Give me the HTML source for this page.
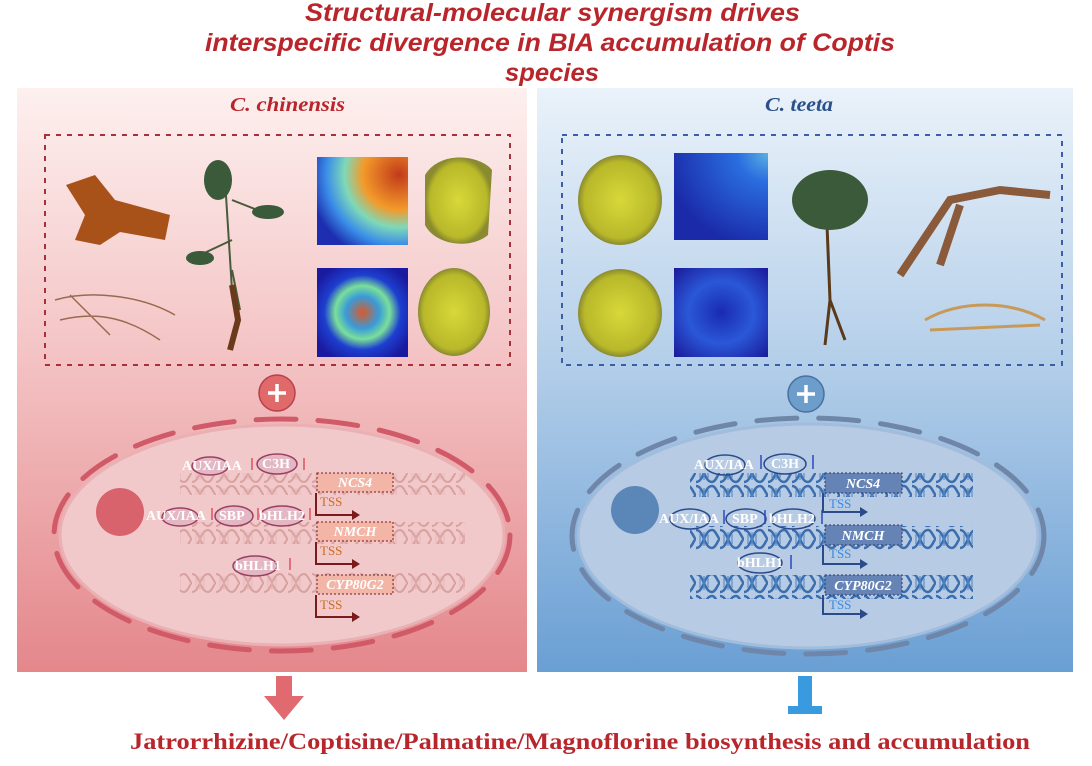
<!DOCTYPE html>
<html><head><meta charset="utf-8"><style>
html,body{margin:0;padding:0;background:#fff;}
svg{display:block;}
.t{font-family:"Liberation Sans",sans-serif;font-style:italic;font-weight:bold;fill:#b8262c;font-size:25px;}
.s{font-family:"Liberation Serif",serif;}
</style></head><body>
<svg width="1092" height="766" viewBox="0 0 1092 766" xmlns="http://www.w3.org/2000/svg">
<defs>
<linearGradient id="gl" x1="0" y1="0" x2="0" y2="1"><stop offset="0" stop-color="#fdf0ef"/><stop offset="0.45" stop-color="#f4c4c5"/><stop offset="1" stop-color="#e4878b"/></linearGradient>
<linearGradient id="gr" x1="0" y1="0" x2="0" y2="1"><stop offset="0" stop-color="#eaf2fa"/><stop offset="0.45" stop-color="#b6d0ea"/><stop offset="1" stop-color="#6a9fd4"/></linearGradient>
<radialGradient id="hm1" cx="0.9" cy="0.2" r="1"><stop offset="0" stop-color="#c23a1a"/><stop offset="0.4" stop-color="#f39a2a"/><stop offset="0.6" stop-color="#7ed9b8"/><stop offset="0.8" stop-color="#3a8de8"/><stop offset="1" stop-color="#1d2fb0"/></radialGradient>
<radialGradient id="hm2" cx="0.5" cy="0.5" r="0.6"><stop offset="0" stop-color="#d85a2a"/><stop offset="0.3" stop-color="#3a9ad8"/><stop offset="0.5" stop-color="#7adf9a"/><stop offset="0.7" stop-color="#1d3fd0"/><stop offset="1" stop-color="#1a1aa0"/></radialGradient>
<radialGradient id="hm3" cx="1" cy="0" r="1.1"><stop offset="0" stop-color="#5ab0e0"/><stop offset="0.3" stop-color="#2a6de0"/><stop offset="1" stop-color="#1a2aa8"/></radialGradient>
<radialGradient id="hm4" cx="0.5" cy="0.5" r="0.7"><stop offset="0" stop-color="#1a2ab0"/><stop offset="0.5" stop-color="#2a58d8"/><stop offset="1" stop-color="#1a1a9a"/></radialGradient>
<radialGradient id="sl" cx="0.5" cy="0.5" r="0.5"><stop offset="0" stop-color="#d8d83a"/><stop offset="0.85" stop-color="#b8b82a"/><stop offset="1" stop-color="#8a8a30"/></radialGradient>
<pattern id="dnaL" width="24" height="22" patternUnits="userSpaceOnUse"><path d="M0 2 C8 2 8 20 16 20 M0 20 C8 20 8 2 16 2 M16 2 C20 2 22 11 24 11 M16 20 C20 20 22 11 24 11" stroke="#d9a0a0" stroke-width="2" fill="none"/><path d="M4 6v10M8 4v14M12 6v10" stroke="#e6b5b5" stroke-width="1"/></pattern>
<pattern id="dnaR" width="24" height="22" patternUnits="userSpaceOnUse"><path d="M0 2 C8 2 8 20 16 20 M0 20 C8 20 8 2 16 2 M16 2 C20 2 22 11 24 11 M16 20 C20 20 22 11 24 11" stroke="#3a6eae" stroke-width="2.5" fill="none"/><path d="M4 6v10M8 4v14M12 6v10" stroke="#5a8cc8" stroke-width="1.2"/></pattern>
</defs>
<rect width="1092" height="766" fill="#fff"/>
<text class="t" x="305" y="21" textLength="495" lengthAdjust="spacingAndGlyphs">Structural-molecular synergism drives</text>
<text class="t" x="205" y="51" textLength="690" lengthAdjust="spacingAndGlyphs">interspecific divergence in BIA accumulation of Coptis</text>
<text class="t" x="505" y="81" textLength="94" lengthAdjust="spacingAndGlyphs">species</text>

<rect x="17" y="88" width="510" height="584" fill="url(#gl)"/>
<rect x="537" y="88" width="536" height="584" fill="url(#gr)"/>
<text x="230" y="111" textLength="115" lengthAdjust="spacingAndGlyphs" class="s" font-size="20" font-weight="bold" font-style="italic" fill="#b8262c">C. chinensis</text>
<text x="765" y="111" textLength="68" lengthAdjust="spacingAndGlyphs" class="s" font-size="20" font-weight="bold" font-style="italic" fill="#2b4f8a">C. teeta</text>

<rect x="45" y="135" width="465" height="230" fill="none" stroke="#a8303a" stroke-width="2" stroke-dasharray="5 6"/>
<rect x="562" y="135" width="500" height="230" fill="none" stroke="#3a5ea8" stroke-width="2" stroke-dasharray="5 6"/>

<path d="M66 185 L95 175 L115 200 L170 215 L165 240 L120 232 L100 245 L75 240 L85 215 Z" fill="#a8521a"/>
<path d="M55 300 C90 290 140 295 175 315 M60 320 C100 310 130 320 160 340 M70 295 L110 335" stroke="#9a6a50" stroke-width="1.5" fill="none"/>
<path d="M225 180 L232 290 M232 270 L240 310 M232 200 L270 215 M232 240 L200 255" stroke="#4a5a3a" stroke-width="2" fill="none"/>
<ellipse cx="218" cy="180" rx="14" ry="20" fill="#3a5a3a"/>
<ellipse cx="268" cy="212" rx="16" ry="7" fill="#3a5a3a"/>
<ellipse cx="200" cy="258" rx="14" ry="7" fill="#3a5a3a"/>
<path d="M232 285 L238 320 L230 350" stroke="#6a3a1a" stroke-width="6" fill="none"/>
<rect x="317" y="157" width="91" height="88" fill="url(#hm1)"/>
<path d="M425 175 C440 150 480 155 492 170 L488 235 C470 250 435 245 425 225 Z" fill="url(#sl)"/>
<rect x="317" y="268" width="91" height="89" fill="url(#hm2)"/>
<ellipse cx="454" cy="312" rx="36" ry="44" fill="url(#sl)"/>
<ellipse cx="620" cy="200" rx="42" ry="45" fill="url(#sl)"/>
<rect x="674" y="153" width="94" height="87" fill="url(#hm3)"/>
<ellipse cx="620" cy="313" rx="42" ry="44" fill="url(#sl)"/>
<rect x="674" y="268" width="94" height="89" fill="url(#hm4)"/>
<path d="M825 175 L830 300 M830 300 L825 345 M830 300 L845 340" stroke="#5a3a1a" stroke-width="3" fill="none"/>
<ellipse cx="830" cy="200" rx="38" ry="30" fill="#3a5a3a"/>
<path d="M900 275 L950 200 L1000 190 L1050 195 M960 205 L940 265" stroke="#8a5a3a" stroke-width="8" fill="none"/>
<path d="M925 320 C960 300 1010 300 1045 320 M930 330 L1040 325" stroke="#c89a5a" stroke-width="3" fill="none"/>

<circle cx="277" cy="393" r="18" fill="#e06a6a" stroke="#b84050" stroke-width="1.5"/>
<path d="M268 393h18M277 384v18" stroke="#fff" stroke-width="3.5"/>
<circle cx="806" cy="394" r="18" fill="#6d9ecb" stroke="#4a70a0" stroke-width="1.5"/>
<path d="M797 394h18M806 385v18" stroke="#fff" stroke-width="3.5"/>

<ellipse cx="282" cy="535" rx="222" ry="110" fill="#f1c9ca" stroke="#eab0b3" stroke-width="3"/>
<ellipse cx="282" cy="535" rx="228" ry="116" fill="none" stroke="#d05a68" stroke-width="5" stroke-dasharray="40 22" stroke-linecap="round"/>
<circle cx="120" cy="512" r="24" fill="#d8636c"/>
<rect x="180" y="473" width="285" height="22" fill="url(#dnaL)"/>
<rect x="180" y="522" width="285" height="22" fill="url(#dnaL)"/>
<rect x="180" y="572" width="285" height="22" fill="url(#dnaL)"/>
<g font-family="Liberation Serif,serif" font-size="14" font-weight="bold" fill="#fff">
<ellipse cx="210" cy="466" rx="18" ry="9" fill="#e3b8c4" stroke="#9a4060" stroke-width="1.5"/>
<text x="182" y="470">AUX/IAA</text>
<ellipse cx="277" cy="464" rx="20" ry="10" fill="#e3b8c4" stroke="#9a4060" stroke-width="1.5"/>
<text x="262" y="468">C3H</text>
<ellipse cx="180" cy="517" rx="18" ry="9" fill="#e3b8c4" stroke="#9a4060" stroke-width="1.5"/>
<text x="146" y="520">AUX/IAA</text>
<ellipse cx="234" cy="516" rx="19" ry="10" fill="#e3b8c4" stroke="#9a4060" stroke-width="1.5"/>
<text x="219" y="520">SBP</text>
<ellipse cx="282" cy="516" rx="22" ry="10" fill="#e3b8c4" stroke="#9a4060" stroke-width="1.5"/>
<text x="259" y="520">bHLH2</text>
<ellipse cx="255" cy="566" rx="22" ry="10" fill="#e3b8c4" stroke="#9a4060" stroke-width="1.5"/>
<text x="235" y="570">bHLH1</text>
</g>
<g stroke="#e05060" stroke-width="1.5" fill="#e05060">
<path d="M252 470v-12M304 470v-12M212 520v-12M258 520v-12M310 520v-12M290 570v-12"/>
</g>
<g font-family="Liberation Serif,serif">
<rect x="317" y="473" width="76" height="19" fill="#f3b5a5" stroke="#7a1a1a" stroke-dasharray="2 2"/>
<text x="355" y="487" text-anchor="middle" font-size="14" font-style="italic" font-weight="bold" fill="#fff">NCS4</text>
<rect x="317" y="522" width="76" height="19" fill="#f3b5a5" stroke="#7a1a1a" stroke-dasharray="2 2"/>
<text x="355" y="536" text-anchor="middle" font-size="14" font-style="italic" font-weight="bold" fill="#fff">NMCH</text>
<rect x="317" y="575" width="76" height="19" fill="#f3b5a5" stroke="#7a1a1a" stroke-dasharray="2 2"/>
<text x="355" y="589" text-anchor="middle" font-size="14" font-style="italic" font-weight="bold" fill="#fff">CYP80G2</text>
<g font-size="13" fill="#d06a20"><text x="320" y="506">TSS</text><text x="320" y="555">TSS</text><text x="320" y="609">TSS</text></g>
<g stroke="#7a1a1a" stroke-width="2" fill="none"><path d="M316 493v22h42M316 542v22h42M316 595v22h42"/></g>
<g fill="#7a1a1a"><path d="M360 515l-8-5v10zM360 564l-8-5v10zM360 617l-8-5v10z"/></g>
</g>

<ellipse cx="808" cy="536" rx="230" ry="112" fill="#b7cbe4" stroke="#a2bcdc" stroke-width="3"/>
<ellipse cx="808" cy="536" rx="236" ry="118" fill="none" stroke="#6f86a8" stroke-width="5" stroke-dasharray="40 22" stroke-linecap="round"/>
<circle cx="635" cy="510" r="24" fill="#5a86b8"/>
<rect x="690" y="473" width="283" height="24" fill="url(#dnaR)"/>
<rect x="690" y="526" width="283" height="24" fill="url(#dnaR)"/>
<rect x="690" y="575" width="283" height="24" fill="url(#dnaR)"/>
<g font-family="Liberation Serif,serif" font-size="14" font-weight="bold" fill="#fff">
<ellipse cx="725" cy="465" rx="20" ry="10" fill="none" stroke="#2a4a8a" stroke-width="1.5"/>
<text x="694" y="469">AUX/IAA</text>
<ellipse cx="785" cy="464" rx="21" ry="10" fill="none" stroke="#2a4a8a" stroke-width="1.5"/>
<text x="771" y="468">C3H</text>
<ellipse cx="690" cy="519" rx="20" ry="10" fill="none" stroke="#2a4a8a" stroke-width="1.5"/>
<text x="659" y="523">AUX/IAA</text>
<ellipse cx="746" cy="519" rx="20" ry="10" fill="none" stroke="#2a4a8a" stroke-width="1.5"/>
<text x="732" y="523">SBP</text>
<ellipse cx="793" cy="519" rx="22" ry="10" fill="none" stroke="#2a4a8a" stroke-width="1.5"/>
<text x="769" y="523">bHLH2</text>
<ellipse cx="760" cy="563" rx="22" ry="10" fill="none" stroke="#2a4a8a" stroke-width="1.5"/>
<text x="737" y="567">bHLH1</text>
</g>
<g stroke="#2a4ac0" stroke-width="1.5"><path d="M761 455v14M813 455v14M724 510v14M765 510v14M822 510v14M791 555v14"/></g>
<g font-family="Liberation Serif,serif">
<rect x="825" y="473" width="77" height="20" fill="#6683b5" stroke="#2a3a6a" stroke-dasharray="2 2"/>
<text x="863" y="488" text-anchor="middle" font-size="14" font-style="italic" font-weight="bold" fill="#fff">NCS4</text>
<rect x="825" y="525" width="77" height="20" fill="#6683b5" stroke="#2a3a6a" stroke-dasharray="2 2"/>
<text x="863" y="540" text-anchor="middle" font-size="14" font-style="italic" font-weight="bold" fill="#fff">NMCH</text>
<rect x="825" y="575" width="77" height="20" fill="#6683b5" stroke="#2a3a6a" stroke-dasharray="2 2"/>
<text x="863" y="590" text-anchor="middle" font-size="14" font-style="italic" font-weight="bold" fill="#fff">CYP80G2</text>
<g font-size="13" fill="#3a8ae0"><text x="829" y="508">TSS</text><text x="829" y="558">TSS</text><text x="829" y="609">TSS</text></g>
<g stroke="#2a4a8a" stroke-width="2" fill="none"><path d="M823 493v19h42M823 545v19h42M823 595v19h42"/></g>
<g fill="#2a4a8a"><path d="M868 512l-8-5v10zM868 564l-8-5v10zM868 614l-8-5v10z"/></g>
</g>

<path d="M276 676h16v20h12l-20 24l-20-24h12z" fill="#e06a70"/>
<rect x="798" y="676" width="14" height="30" fill="#3a9ae0"/>
<rect x="788" y="706" width="34" height="8" fill="#3a9ae0"/>
<text x="130" y="749" textLength="900" lengthAdjust="spacingAndGlyphs" font-family="Liberation Serif,serif" font-weight="bold" font-size="23" fill="#b8262c">Jatrorrhizine/Coptisine/Palmatine/Magnoflorine biosynthesis and accumulation</text>
</svg>
</body></html>
